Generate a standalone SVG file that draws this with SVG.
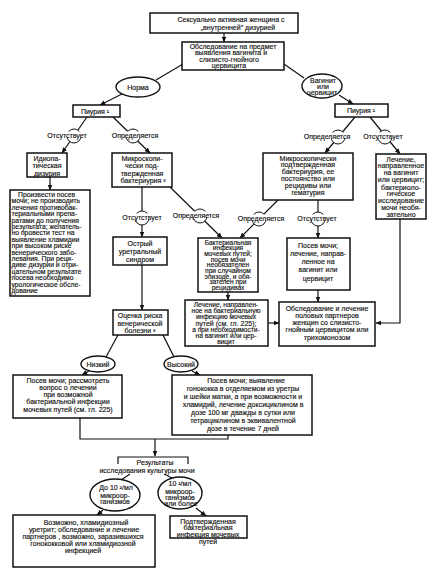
<svg xmlns="http://www.w3.org/2000/svg" width="438" height="580" viewBox="0 0 438 580">
<defs>
<marker id="ah" viewBox="0 0 10 10" refX="9" refY="5" markerWidth="5" markerHeight="5" orient="auto-start-reverse"><path d="M0,1 L10,5 L0,9 z" fill="#111"/></marker>
<style>
.b{fill:#fff;stroke:#111;stroke-width:1.5}
.e{fill:#fff;stroke:#111;stroke-width:1.4}
.l{fill:none;stroke:#111;stroke-width:1.2}
.a{fill:none;stroke:#111;stroke-width:1.2;marker-end:url(#ah)}
.c{fill:#fff;stroke:#111;stroke-width:1}
.m{fill:#fff}
text{font-family:"Liberation Sans","DejaVu Sans",sans-serif;font-size:7px;fill:#111;stroke:#111;stroke-width:0.15;text-anchor:middle}
.s{font-size:6.6px}
.t{text-anchor:start;font-size:6.8px}
</style>
</defs>
<rect width="438" height="580" fill="#fff"/>

<g id="connectors">
<line class="a" x1="224" y1="33" x2="224" y2="42"/>
<line class="l" x1="183" y1="64" x2="156" y2="80"/>
<line class="l" x1="284" y1="64" x2="304" y2="78"/>
<line class="a" x1="124" y1="93" x2="100" y2="105"/>
<line class="a" x1="339" y1="95" x2="353" y2="104"/>
<line class="a" x1="87" y1="117" x2="62" y2="153"/>
<line class="a" x1="113" y1="117" x2="150" y2="153"/>
<line class="a" x1="355" y1="117" x2="325" y2="153"/>
<line class="a" x1="370" y1="117" x2="400" y2="154"/>
<line class="a" x1="50" y1="177" x2="50" y2="190"/>
<line class="a" x1="142" y1="187" x2="142" y2="237"/>
<line class="a" x1="170" y1="187" x2="222" y2="238"/>
<line class="a" x1="278" y1="200" x2="240" y2="238"/>
<line class="a" x1="318" y1="200" x2="318" y2="238"/>
<path class="a" d="M400,219 V323 H376"/>
<line class="a" x1="228" y1="292" x2="228" y2="300"/>
<line class="a" x1="318" y1="290" x2="318" y2="302"/>
<line class="a" x1="268" y1="323" x2="279" y2="323"/>
<line class="a" x1="142" y1="265" x2="142" y2="310"/>
<line class="l" x1="118" y1="335" x2="106" y2="357"/>
<line class="l" x1="163" y1="335" x2="174" y2="357"/>
<line class="a" x1="89" y1="371" x2="82" y2="375"/>
<line class="a" x1="192" y1="371" x2="200" y2="375"/>
<path class="l" d="M80,418 V439 H228 V435"/>
<line class="a" x1="155" y1="439" x2="155" y2="456"/>
<path class="l" d="M118,464 V457 H188 V464"/>
<line class="l" x1="130" y1="474" x2="121" y2="480"/>
<line class="l" x1="164" y1="474" x2="172" y2="478"/>
<line class="a" x1="103" y1="510" x2="97" y2="515"/>
<line class="a" x1="196" y1="508" x2="206" y2="516"/>
</g>

<g id="labels">
<circle class="c" cx="74" cy="136" r="7"/><rect class="m" x="46" y="131.5" width="44" height="6"/><text x="67" y="137.5">Отсутствует</text>
<circle class="c" cx="133" cy="136" r="7"/><rect class="m" x="110" y="131.5" width="51" height="6"/><text x="135" y="137.5">Определяется</text>
<circle class="c" cx="338" cy="137" r="7"/><rect class="m" x="303" y="132.5" width="48" height="6"/><text x="327" y="138.5">Определяется</text>
<circle class="c" cx="385" cy="137" r="7"/><rect class="m" x="361" y="132.5" width="45" height="6"/><text x="383" y="138.5">Отсутствует</text>
<circle class="c" cx="142" cy="218" r="7"/><rect class="m" x="120" y="213.5" width="45" height="6"/><text x="142" y="219.5">Отсутствует</text>
<circle class="c" cx="200" cy="216" r="7"/><rect class="m" x="173" y="211.5" width="47" height="6"/><text x="196" y="217.5">Определяется</text>
<circle class="c" cx="259" cy="219" r="7"/><rect class="m" x="236" y="214.5" width="50" height="6"/><text x="261" y="220.5">Определяется</text>
<circle class="c" cx="318" cy="219" r="7"/><rect class="m" x="296" y="214.5" width="44" height="6"/><text x="317" y="220.5">Отсутствует</text>
</g>

<g id="n-top"><rect class="b" x="150" y="13" width="148" height="20"/>
<text x="231" y="21.5">Сексуально активная женщина с</text>
<text x="238" y="30">„внутренней" дизурией</text></g>

<g id="n-exam"><rect class="b" x="182" y="42" width="102" height="28"/>
<text x="233" y="48.5">Обследование на предмет</text>
<text x="231" y="55">выявления вагинита и</text>
<text x="229" y="61.5">слизисто-гнойного</text>
<text x="229" y="68">цервицита</text></g>

<g id="n-norm"><ellipse class="e" cx="138" cy="87" rx="22" ry="10"/><text x="138" y="89.5">Норма</text></g>
<g id="n-vag"><ellipse class="e" cx="322" cy="86" rx="20" ry="12"/>
<text x="323" y="82.5">Вагинит</text><text x="323" y="88.5">или</text><text x="322" y="95">цервицит</text></g>

<g id="n-pyu1"><rect class="b" x="73" y="105" width="47" height="12"/><text x="95" y="113.5">Пиурия ¹</text></g>
<g id="n-pyu2"><rect class="b" x="335" y="104" width="53" height="13"/><text x="361" y="113">Пиурия ¹</text></g>

<g id="n-idio"><rect class="b" x="27" y="153" width="40" height="24"/>
<text x="47" y="160.5">Идиопа-</text><text x="47" y="168">тическая</text><text x="47" y="175.5">дизурия</text></g>

<g id="n-advice"><rect class="b" x="10" y="190" width="80" height="106"/>
<text class="t" x="18" y="197">Произвести посев</text>
<text class="t" x="11.5" y="203.4">мочи; не производить</text>
<text class="t" x="11.5" y="209.8">лечения противобак-</text>
<text class="t" x="11.5" y="216.2">териальными препа-</text>
<text class="t" x="11.5" y="222.6">ратами до получения</text>
<text class="t" x="11.5" y="229">результата; желатель-</text>
<text class="t" x="11.5" y="235.4">но провести тест на</text>
<text class="t" x="11.5" y="241.8">выявление хламидии</text>
<text class="t" x="11.5" y="248.2">при высоком риске</text>
<text class="t" x="11.5" y="254.6">венерического забо-</text>
<text class="t" x="11.5" y="261">левания. При реци-</text>
<text class="t" x="11.5" y="267.4">диве дизурии и отри-</text>
<text class="t" x="11.5" y="273.8">цательном результате</text>
<text class="t" x="11.5" y="280.2">посева необходимо</text>
<text class="t" x="11.5" y="286.6">урологическое обсле-</text>
<text class="t" x="11.5" y="293">дование</text></g>

<g id="n-micro1"><rect class="b" x="112" y="153" width="60" height="34"/>
<text x="142" y="160.5">Микроскопи-</text><text x="142" y="168">чески под-</text><text x="142" y="175.5">твержденная</text><text x="143" y="183">бактериурия ³</text></g>

<g id="n-micro2"><rect class="b" x="263" y="153" width="90" height="47"/>
<text x="308" y="160.5">Микроскопически</text><text x="308" y="167.2">подтвержденная</text><text x="308" y="174">бактериурия, ее</text><text x="308" y="181">постоянство или</text><text x="308" y="188">рецидивы или</text><text x="308" y="195">гематурия</text></g>

<g id="n-vagtreat"><rect class="b" x="376" y="154" width="50" height="65"/>
<text x="401" y="161.5">Лечение,</text><text x="401" y="168.3">направленное</text><text x="401" y="175">на вагинит</text><text x="401" y="181.7">или цервицит;</text><text x="401" y="189.5">бактериоло-</text><text x="401" y="196.2">гическое</text><text x="401" y="203">исследование</text><text x="401" y="209.8">мочи необя-</text><text x="401" y="216.5">зательно</text></g>

<g id="n-acute"><rect class="b" x="113" y="237" width="54" height="28"/>
<text x="140" y="246">Острый</text><text x="140" y="254">уретральный</text><text x="140" y="262">синдром</text></g>

<g id="n-bact"><rect class="b" x="198" y="238" width="60" height="54"/>
<text class="s" x="228" y="244.5">Бактериальная</text><text class="s" x="228" y="250.2">инфекция</text><text class="s" x="228" y="255.9">мочевых путей;</text><text class="s" x="228" y="261.6">посев мочи</text><text class="s" x="228" y="267.3">необязателен</text><text class="s" x="228" y="273">при случайном</text><text class="s" x="228" y="278.7">эпизоде, и обя-</text><text class="s" x="228" y="284.4">зателен при</text><text class="s" x="228" y="290.1">рецидивах</text></g>

<g id="n-culture1"><rect class="b" x="287" y="238" width="63" height="52"/>
<text x="318" y="247.5">Посев мочи;</text><text x="318" y="256">лечение, направ-</text><text x="318" y="264">ленное на</text><text x="318" y="272">вагинит или</text><text x="318" y="280.5">цервицит</text></g>

<g id="n-uti"><rect class="b" x="185" y="300" width="83" height="46"/>
<text class="s" x="226" y="306.5">Лечение, направлен-</text><text class="s" x="226" y="312.5">ное на бактериальную</text><text class="s" x="226" y="318.5">инфекцию мочевых</text><text x="226" y="325.5">путей (см. гл. 225);</text><text class="s" x="226" y="331.5">а при необходимости-</text><text class="s" x="226" y="337.5">на вагинит или цер-</text><text class="s" x="226" y="343.5">вицит</text></g>

<g id="n-partners"><rect class="b" x="279" y="302" width="96" height="44"/>
<text x="327" y="310.5">Обследование и лечение</text><text x="327" y="317.5">половых партнеров</text><text x="327" y="324.5">женщин со слизисто-</text><text x="327" y="332">гнойным цервицитом или</text><text x="327" y="340">трихомонозом</text></g>

<g id="n-risk"><rect class="b" x="113" y="310" width="55" height="25"/>
<text x="140" y="318">Оценка риска</text><text x="140" y="325.5">венерической</text><text x="140" y="333">болезни ³</text></g>

<g id="n-low"><ellipse class="e" cx="98" cy="364" rx="17" ry="8"/><text x="98" y="366.5">Низкий</text></g>
<g id="n-high"><ellipse class="e" cx="181" cy="364" rx="17" ry="8"/><text x="181" y="366.5">Высокий</text></g>

<g id="n-lowcult"><rect class="b" x="13" y="375" width="109" height="43"/>
<text x="68" y="383">Посев мочи; рассмотреть</text><text x="68" y="390">вопрос о лечении</text><text x="68" y="397">при возможной</text><text x="68" y="404">бактериальной инфекции</text><text x="68" y="412">мочевых путей (см. гл. 225)</text></g>

<g id="n-highcult"><rect class="b" x="172" y="375" width="140" height="60"/>
<text x="246" y="382.5">Посев мочи; выявление</text><text x="243" y="390.5">гонококка в отделяемом из уретры</text><text x="243" y="398.5">и шейки матки, а при возможности и</text><text x="243" y="406.5">хламидий, лечение доксициклином в</text><text x="243" y="414.5">дозе 100 мг дважды в сутки или</text><text x="243" y="422.5">тетрациклином в эквивалентной</text><text x="243" y="430.5">дозе в течение 7 дней</text></g>

<g id="n-results">
<text x="155" y="465">Результаты</text><text x="147" y="472.5">исследования культуры мочи</text></g>

<g id="n-lowcount"><ellipse class="e" cx="115" cy="495" rx="25" ry="16"/>
<text x="116" y="490">До 10 ²/мл</text><text x="115" y="497.5">микроор-</text><text x="115" y="504">ганизмов</text></g>
<g id="n-highcount"><ellipse class="e" cx="180" cy="493" rx="22" ry="16"/>
<text x="180" y="486">10 ²/мл</text><text x="180" y="493.5">микроор-</text><text x="180" y="499.5">ганизмов</text><text x="181" y="506">или более</text></g>

<g id="n-chlam"><rect class="b" x="13" y="515" width="142" height="52"/>
<text x="86" y="525">Возможно, хламидиозный</text><text x="84" y="532">уретрит; обследование и лечение</text><text x="83" y="539">партнеров , возможно, заразившихся</text><text x="83" y="546">гонококковой или хламидиозной</text><text x="83" y="553">инфекцией</text></g>

<g id="n-confirm"><rect class="b" x="170" y="516" width="77" height="22"/>
<text x="208" y="523.5">Подтвержденная</text><text x="208" y="530">бактериальная</text><text x="208" y="536.5">инфекция мочевых</text><text x="208" y="544">путей</text></g>
</svg>
